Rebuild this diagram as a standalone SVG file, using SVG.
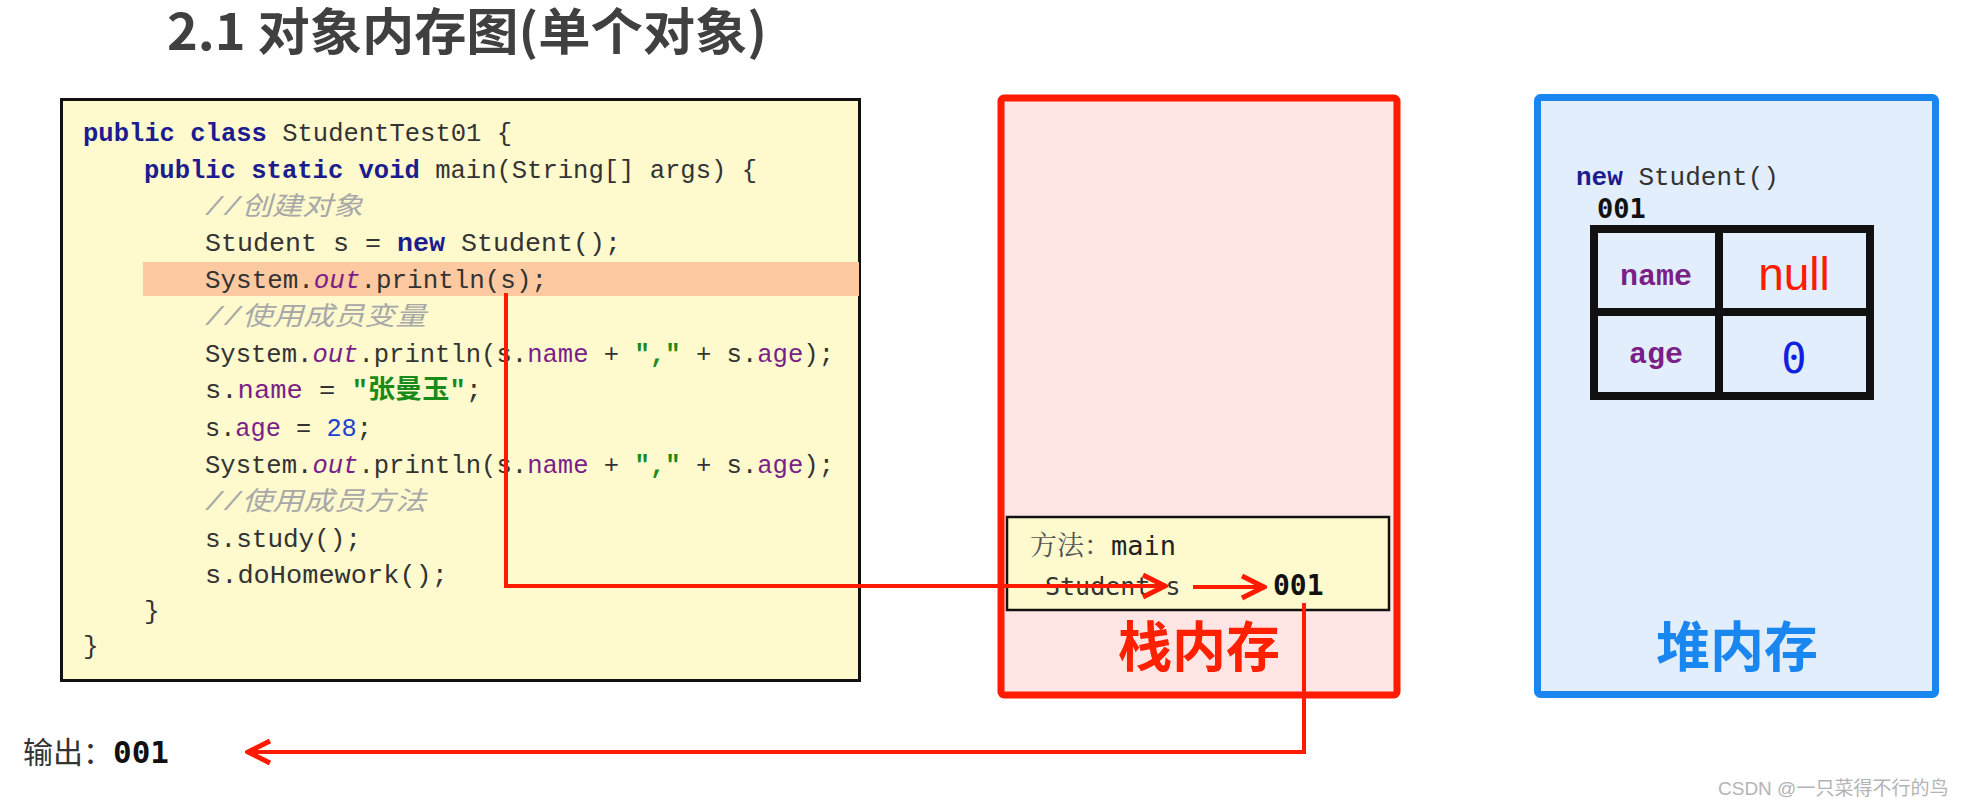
<svg xmlns="http://www.w3.org/2000/svg" width="1964" height="808" viewBox="0 0 1964 808">
<defs>
<style>
.code{font-family:"Liberation Mono","Noto Sans CJK SC",monospace;font-size:26px;fill:#333;}
.kw{fill:#1c1c8f;font-weight:bold;}
.fld{fill:#7a1f88;}
.out{fill:#7a1f88;font-style:italic;}
.str{fill:#1a8a1a;font-weight:bold;}
.num{fill:#2040d0;}
.cmt{fill:#a8a8a8;font-style:italic;}
.wire{fill:none;stroke:#ff1a00;stroke-width:4;}
.big{font-family:"Noto Sans CJK SC",sans-serif;font-weight:bold;font-size:54px;text-anchor:middle;}
.mono{font-family:"DejaVu Sans Mono","Noto Sans CJK SC",monospace;}
</style>
<marker id="arr" markerUnits="userSpaceOnUse" viewBox="0 0 28 28" refX="25" refY="14" markerWidth="28" markerHeight="28" orient="auto">
<path d="M3,3 L25,14 L3,25" fill="none" stroke="#ff1a00" stroke-width="5" stroke-linejoin="miter"/>
</marker>
</defs>
<rect width="1964" height="808" fill="#ffffff"/>

<g id="title">
<text x="167" y="50" textLength="600" lengthAdjust="spacingAndGlyphs" font-family="'Noto Sans CJK SC',sans-serif" font-weight="bold" font-size="50" fill="#404040">2.1 对象内存图(单个对象)</text>
</g>

<g id="code-box">
<rect x="61.5" y="99.5" width="798" height="581" fill="#fefacd" stroke="#111" stroke-width="3"/>
<rect x="143" y="262" width="716" height="34" fill="#fdc9a0"/>
<g class="code">
<text x="83" y="141" textLength="429" lengthAdjust="spacingAndGlyphs"><tspan class="kw">public class</tspan> StudentTest01 {</text>
<text x="144" y="178" textLength="613" lengthAdjust="spacingAndGlyphs"><tspan class="kw">public static void</tspan> main(String[] args) {</text>
<text x="205" y="215" textLength="158" lengthAdjust="spacingAndGlyphs" class="cmt">//创建对象</text>
<text x="205" y="251" textLength="416" lengthAdjust="spacingAndGlyphs">Student s = <tspan class="kw">new</tspan> Student();</text>
<text x="205" y="288" textLength="342" lengthAdjust="spacingAndGlyphs">System.<tspan class="out">out</tspan>.println(s);</text>
<text x="205" y="325" textLength="221" lengthAdjust="spacingAndGlyphs" class="cmt">//使用成员变量</text>
<text x="205" y="362" textLength="629" lengthAdjust="spacingAndGlyphs">System.<tspan class="out">out</tspan>.println(s.<tspan class="fld">name</tspan> + <tspan class="str">","</tspan> + s.<tspan class="fld">age</tspan>);</text>
<text x="205" y="398" textLength="277" lengthAdjust="spacingAndGlyphs">s.<tspan class="fld">name</tspan> = <tspan class="str">"张曼玉"</tspan>;</text>
<text x="205" y="436" textLength="167" lengthAdjust="spacingAndGlyphs">s.<tspan class="fld">age</tspan> = <tspan class="num">28</tspan>;</text>
<text x="205" y="473" textLength="629" lengthAdjust="spacingAndGlyphs">System.<tspan class="out">out</tspan>.println(s.<tspan class="fld">name</tspan> + <tspan class="str">","</tspan> + s.<tspan class="fld">age</tspan>);</text>
<text x="205" y="510" textLength="221" lengthAdjust="spacingAndGlyphs" class="cmt">//使用成员方法</text>
<text x="205" y="547" textLength="156" lengthAdjust="spacingAndGlyphs">s.study();</text>
<text x="205" y="583" textLength="243" lengthAdjust="spacingAndGlyphs">s.doHomework();</text>
<text x="144" y="619">}</text>
<text x="83" y="654">}</text>
</g>
</g>

<g id="stack">
<rect x="1001" y="98" width="396" height="597" rx="3" fill="#ffe6e4" stroke="#ff1a00" stroke-width="7"/>
<rect x="1007" y="517" width="382" height="93" fill="#fefacd" stroke="#111" stroke-width="2.5"/>
<text x="1030" y="555" class="mono" font-size="27" fill="#222"><tspan fill="#555" font-family="'Noto Serif CJK SC','Noto Sans CJK SC',serif">方法：</tspan>main</text>
<text x="1045" y="595" class="mono" font-size="25" fill="#333">Student s</text>
<text x="1273" y="595" class="mono" font-size="28" font-weight="bold" fill="#111">001</text>
<text x="1199" y="667" class="big" fill="#ff2000">栈内存</text>
</g>

<g id="heap">
<rect x="1537.5" y="97.5" width="398" height="597" rx="3" fill="#e2eefb" stroke="#1a87f0" stroke-width="7"/>
<text x="1576" y="185" class="code" font-size="27"><tspan class="kw">new</tspan> Student()</text>
<text x="1597" y="218" class="mono" font-size="27" font-weight="bold" fill="#111">001</text>
<g id="object-table">
<rect x="1594" y="229" width="276" height="167" fill="none" stroke="#111" stroke-width="8"/>
<line x1="1719" y1="229" x2="1719" y2="396" stroke="#111" stroke-width="8"/>
<line x1="1594" y1="312" x2="1870" y2="312" stroke="#111" stroke-width="8"/>
<text x="1656" y="285" font-family="'Liberation Mono',monospace" font-weight="bold" font-size="30" fill="#7a1f88" text-anchor="middle">name</text>
<text x="1656" y="363" font-family="'Liberation Mono',monospace" font-weight="bold" font-size="30" fill="#7a1f88" text-anchor="middle">age</text>
<text x="1794" y="290" font-family="'Liberation Sans',sans-serif" font-size="46" fill="#ff1a00" text-anchor="middle">null</text>
<text x="1794" y="373" class="mono" font-size="42" fill="#1020e0" text-anchor="middle">0</text>
</g>
<text x="1737" y="667" class="big" fill="#1a87f0">堆内存</text>
</g>

<g id="output">
<text x="23" y="763" font-size="30" fill="#333"><tspan font-family="'Noto Sans CJK SC',sans-serif">输出：</tspan><tspan class="mono" font-weight="bold" font-size="31" fill="#111">001</tspan></text>
</g>

<g id="connectors">
<polyline class="wire" points="506,293 506,586 1165,586" marker-end="url(#arr)"/>
<line class="wire" x1="1193" y1="587" x2="1264" y2="587" marker-end="url(#arr)"/>
<polyline class="wire" points="1304,603 1304,752 248,752" marker-end="url(#arr)"/>
</g>

<text x="1718" y="795" font-family="'Liberation Sans','Noto Sans CJK SC',sans-serif" font-size="19" fill="#b4b4b4">CSDN @一只菜得不行的鸟</text>
</svg>
